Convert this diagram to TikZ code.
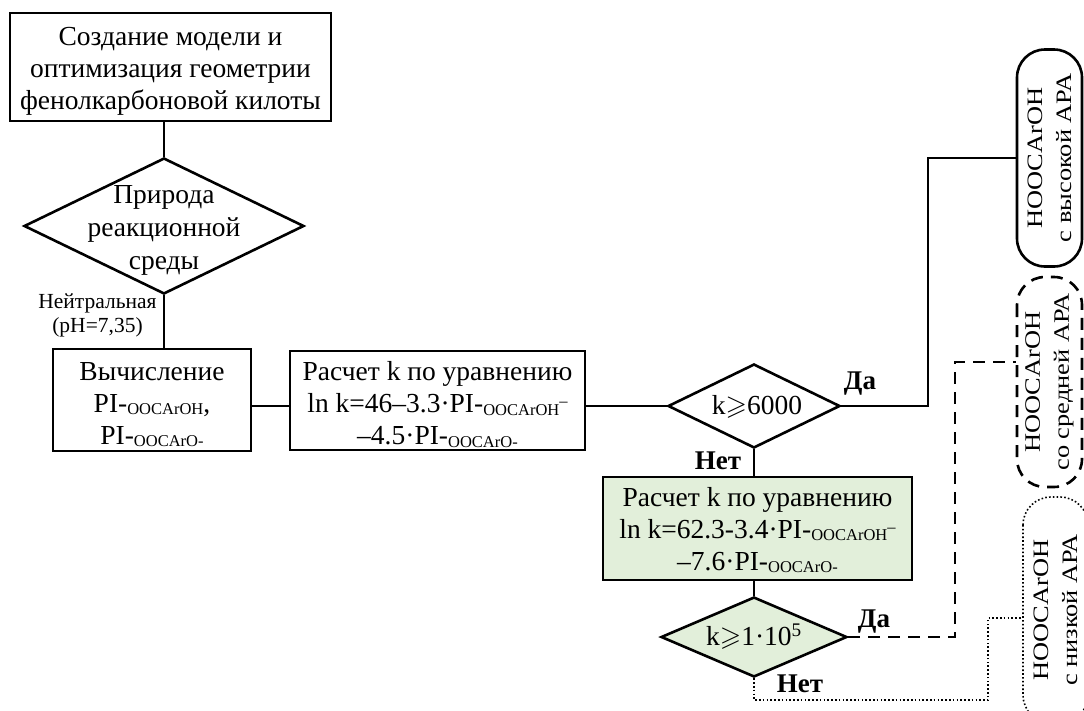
\documentclass[tikz,border=0pt]{standalone}
\usepackage{fontspec}
\setmainfont{Liberation Serif}
\usepackage{amssymb}
\usetikzlibrary{shapes.geometric}
\newcommand{\sbs}[1]{\raisebox{-2.5pt}{\fontsize{16.5}{16.5}\selectfont #1}}
\newcommand{\sdash}{\raisebox{6pt}{\fontsize{16.5}{16.5}\selectfont –}}
\newcommand{\st}[1]{\scalebox{1.2}[1]{#1}}
\newcommand{\tp}[1]{\rule{0pt}{#1}}
\definecolor{lgreen}{RGB}{226,239,218}
\begin{document}
\begin{tikzpicture}[x=1pt,y=-1pt,line width=2.6pt,
  box/.style={draw,rectangle,align=center,inner sep=0pt,font=\fontsize{27.5}{32}\selectfont},
  dia/.style={draw,diamond,inner sep=0pt},
  dtext/.style={align=center,inner sep=0pt,font=\fontsize{27.5}{33}\selectfont},
  lbl/.style={font=\bfseries\fontsize{27}{27}\selectfont},
  small/.style={font=\fontsize{21.5}{24}\selectfont,align=center,inner sep=0pt},
  rbox/.style={draw,rounded corners=28pt,rotate=90,align=center,inner sep=0pt,font=\fontsize{22}{29}\selectfont},
  dsh/.style={dash pattern=on 12pt off 8pt},
  dtt/.style={dash pattern=on 1.6pt off 2.2pt,line width=1.6pt}]
\useasboundingbox (0,0) rectangle (1084,710);

\node[box,minimum width=321pt,minimum height=108pt] (top) at (170.5,67)
  {\tp{27pt}Создание модели и\\оптимизация геометрии\\фенолкарбоновой килоты};
\node[dia,minimum width=280pt,minimum height=136pt] (d0) at (164,226) {};
\node[dtext] (d0t) at (164,230) {Природа\\реакционной\\среды};
\node[box,minimum width=198pt,minimum height=102pt] (v) at (152,400)
  {\tp{27pt}Вычисление\\PI-\sbs{OOCArOH},\\PI-\sbs{OOCArO-}};
\node[box,minimum width=295pt,minimum height=99pt] (e1) at (437.5,400.5)
  {\tp{27pt}Расчет k по уравнению\\ln k=46–3.3·PI-\sbs{OOCArOH}\sdash\\–4.5·PI-\sbs{OOCArO-}};
\node[dia,minimum width=172pt,minimum height=84pt] (d1) at (754,406) {};
\node[dtext] (d1t) at (757,407) {k$\geqslant$6000};
\node[box,fill=lgreen,minimum width=309pt,minimum height=103pt] (e2) at (757.5,528.5)
  {\tp{22pt}Расчет k по уравнению\\ln k=62.3-3.4·PI-\sbs{OOCArOH}\sdash\\–7.6·PI-\sbs{OOCArO-}};
\node[dia,fill=lgreen,minimum width=186pt,minimum height=80pt] (d2) at (754,637) {};
\node[dtext] (d2t) at (754,637) {k$\geqslant$1·10\textsuperscript{5}};

\node[rbox,minimum width=217pt,minimum height=65pt] (hi) at (1049.5,158)
  {\st{HOOCArOH}\\\st{с высокой АРА}};
\node[rbox,dsh,minimum width=210pt,minimum height=65pt] (mid) at (1049.5,382)
  {\st{HOOCArOH}\\\st{со средней АРА}};
\node[rbox,dtt,minimum width=226pt,minimum height=65pt] (lo) at (1055.5,610)
  {\st{HOOCArOH}\\\st{с низкой АРА}};

\node[small] (neut) at (97.5,315) {Нейтральная\\(pH=7,35)};
\node[lbl] (da1) at (860,384) {Да};
\node[lbl] (net1) at (718,461) {Нет};
\node[lbl] (da2) at (874,622) {Да};
\node[lbl] (net2) at (800,684) {Нет};

\coordinate (j1) at (928,406);
\coordinate (jm) at (955,362);
\coordinate (jl1) at (754,700);
\coordinate (jl2) at (988,618);

\draw (top.south -| d0.north) -- (d0.north);
\draw (d0.south) -- (d0.south |- v.north);
\draw (v.east |- d1.west) -- (e1.west |- d1.west);
\draw (e1.east |- d1.west) -- (d1.west);
\draw (d1.east) -- (j1) |- (hi.north);
\draw (d1.south) -- (d1.south |- e2.north);
\draw (e2.south -| d2.north) -- (d2.north);
\draw[dsh] (d2.east) -| (jm) -- (mid.north |- jm);
\draw[dtt] (d2.south) -- (jl1) -| (jl2) -- (lo.north |- jl2);
\end{tikzpicture}
\end{document}
